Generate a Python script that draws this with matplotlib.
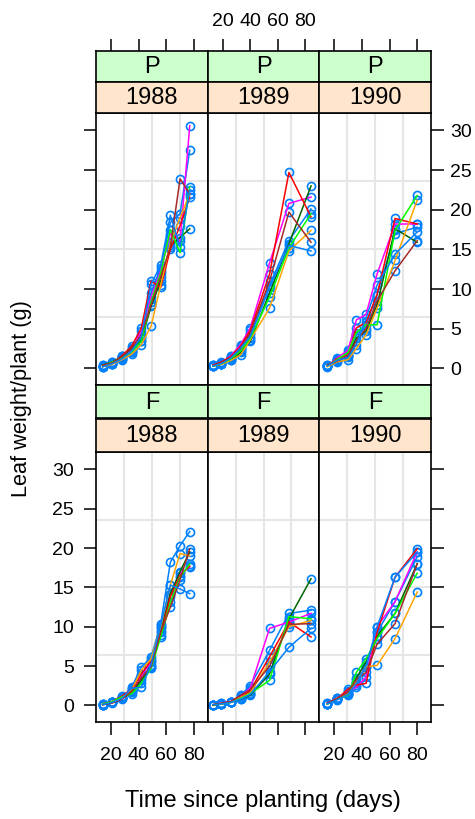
import matplotlib
matplotlib.use('Agg')
import matplotlib.pyplot as plt
from matplotlib import font_manager

# ---------------- data ----------------
years = ["1988", "1989", "1990"]
varieties = ["P", "F"]

time_1988 = [14, 21, 28, 35, 42, 49, 56, 63, 70, 77]
time_1989 = [13, 19, 26, 33, 40, 54, 68, 84]
time_1990 = [15, 22, 30, 36, 43, 51, 64, 80]

# leaf weight per plant (g), 8 plots per panel
P_1988 = [
    [0.2, 0.6, 1.4, 2.0, 3.8, 9.5, 12.7, 18.4, 19.5, 27.5],
    [0.3, 0.7, 1.2, 2.3, 4.7, 9.0, 12.3, 17.0, 16.0, 30.6],
    [0.4, 0.8, 1.5, 2.5, 3.5, 7.8, 11.0, 15.5, 16.5, 17.6],
    [0.3, 0.6, 1.6, 2.8, 5.1, 11.0, 10.2, 15.0, 18.0, 21.6],
    [0.2, 0.5, 1.1, 1.8, 3.0, 5.3, 10.5, 15.8, 19.0, 22.0],
    [0.3, 0.8, 1.3, 2.1, 3.4, 8.4, 12.0, 17.5, 14.6, 22.9],
    [0.4, 0.7, 1.5, 2.6, 4.2, 8.0, 11.5, 15.3, 23.9, 22.0],
    [0.2, 0.6, 1.2, 2.2, 4.0, 10.6, 13.0, 19.3, 15.3, 22.5],
]
P_1989 = [
    [0.3, 0.6, 1.3, 2.4, 4.3, 10.5, 16.1, 20.1],
    [0.4, 0.7, 1.6, 3.0, 5.1, 13.3, 20.8, 21.6],
    [0.3, 0.5, 1.1, 2.0, 3.4, 9.5, 15.7, 23.0],
    [0.4, 0.8, 1.5, 2.8, 4.8, 11.9, 24.7, 19.1],
    [0.3, 0.5, 1.0, 1.7, 3.6, 7.6, 14.8, 17.4],
    [0.3, 0.6, 1.2, 2.2, 3.8, 9.0, 15.2, 19.5],
    [0.4, 0.7, 1.4, 2.5, 4.5, 11.0, 19.7, 15.9],
    [0.3, 0.6, 1.3, 2.6, 4.0, 10.2, 15.5, 14.8],
]
P_1990 = [
    [0.3, 1.0, 1.8, 4.2, 5.5, 9.3, 17.0, 17.8],
    [0.3, 1.3, 2.3, 6.1, 6.8, 11.9, 18.2, 18.2],
    [0.4, 0.9, 1.5, 3.8, 4.7, 8.0, 17.6, 15.9],
    [0.3, 1.2, 1.7, 5.1, 5.8, 9.3, 18.9, 18.2],
    [0.2, 0.8, 1.1, 2.5, 4.2, 7.6, 13.6, 21.2],
    [0.3, 1.1, 2.0, 4.5, 5.5, 5.5, 17.4, 21.8],
    [0.4, 0.9, 1.6, 3.5, 5.0, 8.5, 12.3, 16.1],
    [0.3, 1.0, 1.4, 3.0, 6.3, 10.5, 14.4, 17.2],
]
F_1988 = [
    [0.1, 0.4, 1.0, 2.3, 4.9, 6.1, 10.4, 18.2, 20.3, 22.1],
    [0.2, 0.5, 1.1, 2.0, 3.8, 5.5, 9.8, 14.0, 16.8, 17.6],
    [0.1, 0.4, 0.9, 1.7, 3.2, 5.0, 9.5, 14.2, 17.0, 19.5],
    [0.2, 0.5, 1.2, 2.1, 4.0, 5.7, 9.0, 13.8, 16.5, 17.7],
    [0.1, 0.4, 1.0, 1.9, 4.5, 5.9, 10.0, 15.3, 19.3, 19.0],
    [0.2, 0.5, 1.1, 1.5, 2.8, 4.7, 8.7, 13.1, 16.3, 18.0],
    [0.1, 0.3, 0.8, 1.8, 3.5, 4.9, 9.3, 12.5, 16.0, 19.9],
    [0.1, 0.4, 0.9, 2.2, 2.3, 5.2, 10.2, 15.3, 14.8, 14.2],
]
F_1989 = [
    [0.1, 0.2, 0.4, 1.3, 2.5, 7.0, 11.7, 12.1],
    [0.1, 0.3, 0.5, 1.2, 2.2, 9.8, 10.6, 11.7],
    [0.0, 0.2, 0.4, 0.8, 1.3, 4.0, 11.0, 16.1],
    [0.1, 0.2, 0.5, 1.0, 1.9, 6.2, 10.6, 8.7],
    [0.1, 0.2, 0.4, 1.0, 1.6, 5.5, 10.0, 10.8],
    [0.1, 0.2, 0.4, 0.9, 1.5, 3.2, 11.3, 11.0],
    [0.1, 0.3, 0.5, 1.3, 2.0, 5.0, 10.3, 10.4],
    [0.1, 0.2, 0.4, 0.8, 1.4, 4.3, 7.4, 9.8],
]
F_1990 = [
    [0.2, 0.8, 1.5, 3.0, 4.9, 9.3, 13.2, 18.9],
    [0.3, 0.9, 1.8, 2.3, 3.6, 10.0, 13.2, 19.5],
    [0.2, 0.8, 1.6, 3.5, 5.5, 8.8, 11.7, 18.0],
    [0.2, 0.8, 2.1, 2.6, 2.8, 9.3, 16.3, 19.9],
    [0.2, 0.9, 1.5, 3.0, 4.9, 5.1, 8.5, 14.4],
    [0.2, 0.8, 1.3, 4.2, 5.9, 8.5, 11.7, 16.8],
    [0.3, 0.9, 1.7, 3.3, 4.2, 7.8, 10.4, 18.0],
    [0.2, 0.7, 1.4, 2.8, 5.0, 10.0, 16.3, 19.5],
]

x_ticks = [20, 40, 60, 80]
y_ticks = [0, 5, 10, 15, 20, 25, 30]
x_label = "Time since planting (days)"
y_label = "Leaf weight/plant (g)"

# ---------------- styling ----------------
line_cols = ["#0080ff", "#ff00ff", "#006400", "#ff0000", "#ffa500", "#00ff00", "#a52a2a"]
point_col = "#0080ff"
strip_outer = "#ccffcc"
strip_inner = "#ffe5cc"
grid_col = "#e6e6e6"
XLIM = (9.2, 90.0)
YLIM = (-2.1, 32.2)

plt.rcParams['font.family'] = ['Liberation Sans', 'DejaVu Sans']
installed = {f.name for f in font_manager.fontManager.ttflist}
if 'Liberation Sans Narrow' in installed:
    TICK_FAMILY = ['Liberation Sans Narrow', 'Liberation Sans', 'DejaVu Sans']
    FS_TICK = 16.5
else:
    TICK_FAMILY = ['Liberation Sans', 'DejaVu Sans']
    FS_TICK = 14

W, H = 475, 819
fig = plt.figure(figsize=(W / 100, H / 100), dpi=100)


def ax_px(x0, y0, x1, y1):
    return fig.add_axes([x0 / W, 1 - y1 / H, (x1 - x0) / W, (y1 - y0) / H])


col_edges = [96, 207.7, 319.3, 431]
rows = [  # (outer strip top, inner strip top, panel top, panel bottom)
    (51, 82, 113, 385),
    (385, 418.5, 452, 722),
]

data = {
    ("P", "1988"): (time_1988, P_1988),
    ("P", "1989"): (time_1989, P_1989),
    ("P", "1990"): (time_1990, P_1990),
    ("F", "1988"): (time_1988, F_1988),
    ("F", "1989"): (time_1989, F_1989),
    ("F", "1990"): (time_1990, F_1990),
}

TL = 9
TW = 1.1
FS_STRIP = 17
FS_XLAB = 17
FS_YLAB = 15.7


def style_ticklabels(ax):
    for lab in ax.get_xticklabels() + ax.get_yticklabels():
        lab.set_family(TICK_FAMILY)
        lab.set_fontsize(FS_TICK)


for r, var in enumerate(varieties):
    s1, s2, p0, p1 = rows[r]
    for c, yr in enumerate(years):
        x0, x1 = col_edges[c], col_edges[c + 1]
        ax = ax_px(x0, p0, x1, p1)
        ax.set_xlim(*XLIM)
        ax.set_ylim(*YLIM)
        # grid
        for k in (1, 2, 3):
            gx = XLIM[0] + k * (XLIM[1] - XLIM[0]) / 4
            gy = YLIM[0] + k * (YLIM[1] - YLIM[0]) / 4
            ax.axvline(gx, color=grid_col, lw=1.5, zorder=0)
            ax.axhline(gy, color=grid_col, lw=1.5, zorder=0)
        t, plots = data[(var, yr)]
        for i, vals in enumerate(plots):
            ax.plot(t, vals, 'o', mfc='none', mec=point_col, ms=5.8, mew=1.2,
                    zorder=2, clip_on=False)
            ax.plot(t, vals, '-', color=line_cols[i % 7], lw=1.1, zorder=3)
        for sp in ax.spines.values():
            sp.set_linewidth(1.2)
        ax.set_xticks(x_ticks)
        ax.set_yticks(y_ticks)
        ax.tick_params(length=TL, width=TW, direction='out')
        ax.tick_params(axis='x', top=False, labeltop=False,
                       bottom=(r == 1), labelbottom=(r == 1 and c != 1), pad=9)
        ax.tick_params(axis='y',
                       left=(c == 0), labelleft=(c == 0 and r == 1),
                       right=(c == 2), labelright=(c == 2 and r == 0), pad=7)
        if c == 2:
            ax.tick_params(axis='y', pad=5)
        style_ticklabels(ax)

        # strips
        for (st, sb, txt, fc) in ((s1, s2, var, strip_outer), (s2, p0, yr, strip_inner)):
            sa = ax_px(x0, st, x1, sb)
            sa.set_facecolor(fc)
            sa.set_xlim(*XLIM)
            sa.set_ylim(0, 1)
            sa.set_yticks([])
            for sp in sa.spines.values():
                sp.set_linewidth(1.2)
            sa.text(0.5, 0.47, txt, transform=sa.transAxes, ha='center', va='center',
                    fontsize=FS_STRIP)
            if r == 0 and txt == var:
                sa.set_xticks(x_ticks)
                sa.tick_params(axis='x', bottom=False, labelbottom=False, top=True,
                               labeltop=(c == 1), length=TL, width=TW, pad=6)
                style_ticklabels(sa)
            else:
                sa.set_xticks([])

fig.text(262.5 / W, 1 - 801 / H, x_label, ha='center', va='center', fontsize=FS_XLAB)
fig.text(22 / W, 1 - 399 / H, y_label, ha='center', va='center', rotation=90,
         fontsize=FS_YLAB)

fig.savefig("out.png", dpi=100)
